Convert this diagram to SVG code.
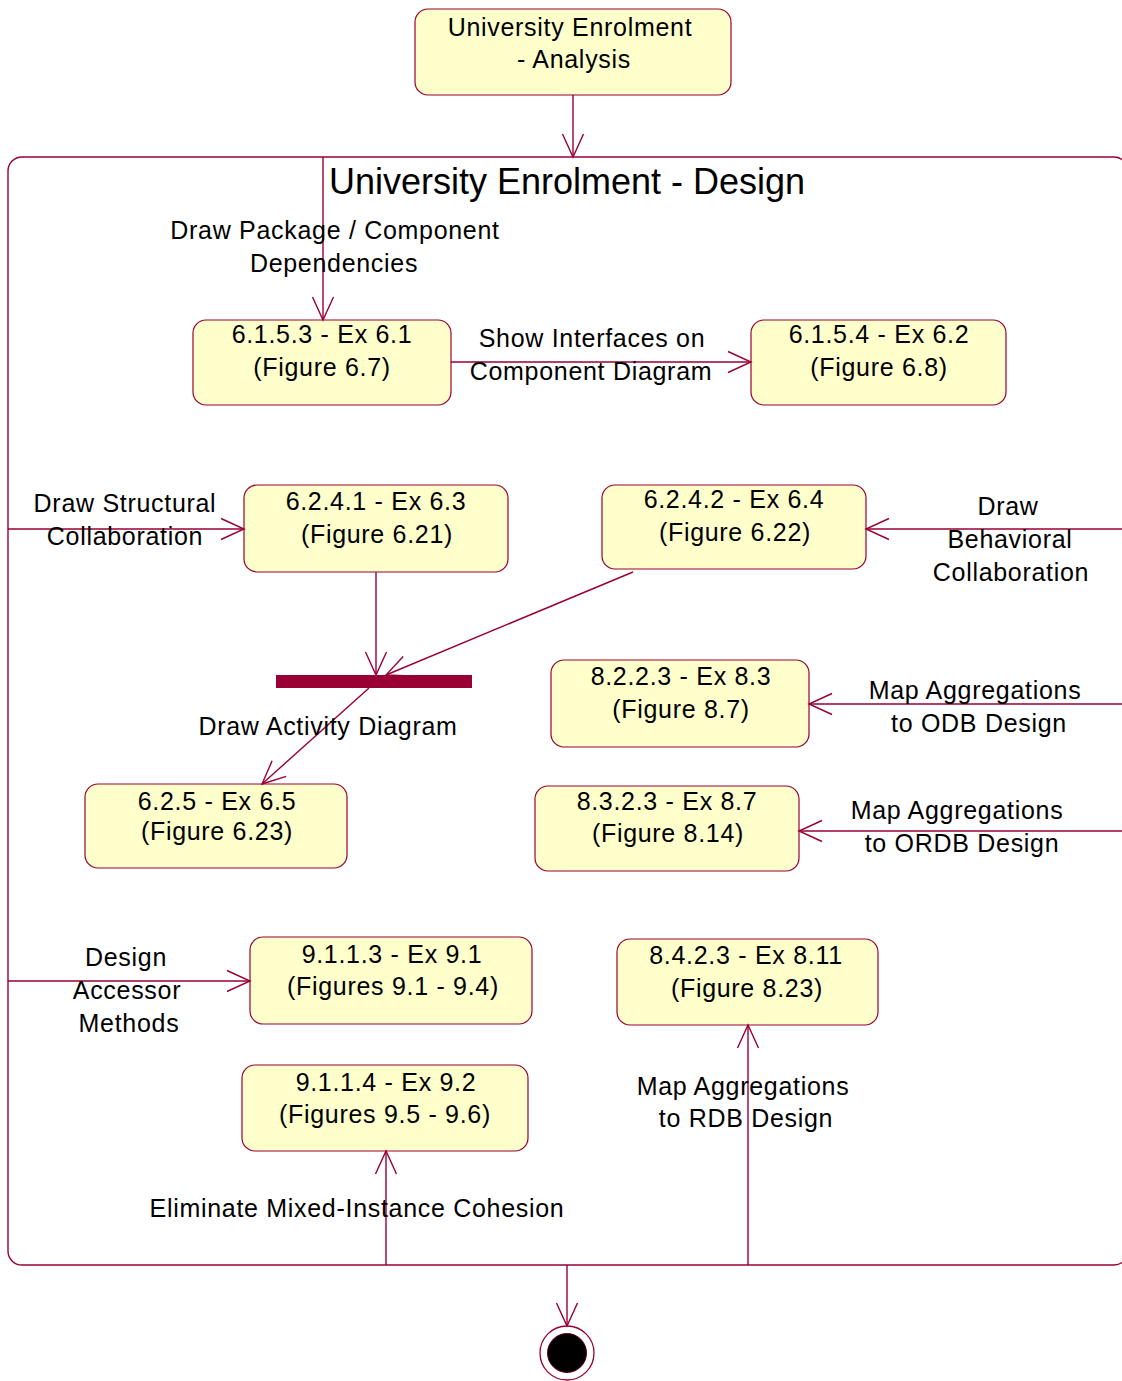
<svg xmlns="http://www.w3.org/2000/svg" width="1122" height="1381" viewBox="0 0 1122 1381">
  <style>
    .node { fill: #FFFFCC; stroke: #990033; stroke-width: 1.2; }
    .edge { fill: none; stroke: #990033; stroke-width: 1.4; }
    .t { font-family: "Liberation Sans", Arial, sans-serif; font-size: 25px; letter-spacing: 0.7px; fill: #000; text-anchor: middle; }
    .title { font-family: "Liberation Sans", Arial, sans-serif; font-size: 36px; fill: #000; text-anchor: middle; }
  </style>
  <defs>
    <marker id="open" viewBox="-25 -12 27 24" refX="0" refY="0" markerWidth="27" markerHeight="24" orient="auto" markerUnits="userSpaceOnUse">
      <path d="M-23,-10.5 L0,0 L-23,10.5" fill="none" stroke="#990033" stroke-width="1.4"/>
    </marker>
  </defs>

  <rect width="1122" height="1381" fill="#fff"/>

  <!-- composite state: design -->
  <g id="design">
    <rect x="8" y="157" width="1120" height="1108" rx="14" ry="14" fill="none" stroke="#990033" stroke-width="1.4"/>
    <text class="title" x="567" y="194">University Enrolment - Design</text>
  </g>

  <g id="analysis">
    <rect class="node" x="415" y="9" width="316" height="86" rx="13"/>
    <text class="t" x="570" y="36">University Enrolment</text>
    <text class="t" x="574" y="68">- Analysis</text>
  </g>

  <g id="n613">
    <rect class="node" x="193" y="320" width="258" height="85" rx="13"/>
    <text class="t" x="322" y="343">6.1.5.3 - Ex 6.1</text>
    <text class="t" x="322" y="376">(Figure 6.7)</text>
  </g>

  <g id="n614">
    <rect class="node" x="751" y="320" width="255" height="85" rx="13"/>
    <text class="t" x="879" y="343">6.1.5.4 - Ex 6.2</text>
    <text class="t" x="879" y="376">(Figure 6.8)</text>
  </g>

  <g id="n6241">
    <rect class="node" x="244" y="485" width="264" height="87" rx="13"/>
    <text class="t" x="376" y="510">6.2.4.1 - Ex 6.3</text>
    <text class="t" x="377" y="543">(Figure 6.21)</text>
  </g>

  <g id="n6242">
    <rect class="node" x="602" y="485" width="264" height="84" rx="13"/>
    <text class="t" x="734" y="508">6.2.4.2 - Ex 6.4</text>
    <text class="t" x="735" y="541">(Figure 6.22)</text>
  </g>

  <g id="sync">
    <rect x="276" y="675" width="196" height="13" fill="#990033"/>
  </g>

  <g id="n8223">
    <rect class="node" x="551" y="660" width="258" height="87" rx="13"/>
    <text class="t" x="681" y="685">8.2.2.3 - Ex 8.3</text>
    <text class="t" x="681" y="718">(Figure 8.7)</text>
  </g>

  <g id="n625">
    <rect class="node" x="85" y="784" width="262" height="84" rx="13"/>
    <text class="t" x="217" y="810">6.2.5 - Ex 6.5</text>
    <text class="t" x="217" y="840">(Figure 6.23)</text>
  </g>

  <g id="n8323">
    <rect class="node" x="535" y="786" width="264" height="85" rx="13"/>
    <text class="t" x="667" y="810">8.3.2.3 - Ex 8.7</text>
    <text class="t" x="668" y="842">(Figure 8.14)</text>
  </g>

  <g id="n9113">
    <rect class="node" x="250" y="937" width="282" height="87" rx="13"/>
    <text class="t" x="392" y="963">9.1.1.3 - Ex 9.1</text>
    <text class="t" x="393" y="995">(Figures 9.1 - 9.4)</text>
  </g>

  <g id="n8423">
    <rect class="node" x="617" y="939" width="261" height="86" rx="13"/>
    <text class="t" x="746" y="964">8.4.2.3 - Ex 8.11</text>
    <text class="t" x="747" y="997">(Figure 8.23)</text>
  </g>

  <g id="n9114">
    <rect class="node" x="242" y="1065" width="286" height="86" rx="13"/>
    <text class="t" x="386" y="1091">9.1.1.4 - Ex 9.2</text>
    <text class="t" x="385" y="1123">(Figures 9.5 - 9.6)</text>
  </g>

  <g id="final">
    <circle cx="567" cy="1353" r="27" fill="#fff" stroke="#990033" stroke-width="1.3"/>
    <circle cx="567" cy="1353" r="19.5" fill="#000" stroke="#660022" stroke-width="1"/>
  </g>

  <!-- transitions -->
  <g id="connectors">
    <line class="edge" x1="573" y1="95" x2="573" y2="157" marker-end="url(#open)"/>

    <line class="edge" x1="323" y1="157" x2="323" y2="320" marker-end="url(#open)"/>
    <text class="t" x="335" y="239">Draw Package / Component</text>
    <text class="t" x="334" y="272">Dependencies</text>

    <line class="edge" x1="451" y1="362" x2="751" y2="362" marker-end="url(#open)"/>
    <text class="t" x="592" y="347">Show Interfaces on</text>
    <text class="t" x="591" y="380">Component Diagram</text>

    <line class="edge" x1="8" y1="529" x2="244" y2="529" marker-end="url(#open)"/>
    <text class="t" x="125" y="512">Draw Structural</text>
    <text class="t" x="125" y="545">Collaboration</text>

    <line class="edge" x1="1122" y1="529" x2="866" y2="529" marker-end="url(#open)"/>
    <text class="t" x="1008" y="515">Draw</text>
    <text class="t" x="1010" y="548">Behavioral</text>
    <text class="t" x="1011" y="581">Collaboration</text>

    <line class="edge" x1="376" y1="572" x2="376" y2="675" marker-end="url(#open)"/>
    <line class="edge" x1="633" y1="572" x2="386" y2="675" marker-end="url(#open)"/>

    <line class="edge" x1="369" y1="688" x2="262" y2="784" marker-end="url(#open)"/>
    <text class="t" x="328" y="735">Draw Activity Diagram</text>

    <line class="edge" x1="1122" y1="704" x2="809" y2="704" marker-end="url(#open)"/>
    <text class="t" x="975" y="699">Map Aggregations</text>
    <text class="t" x="979" y="732">to ODB Design</text>

    <line class="edge" x1="1122" y1="831" x2="799" y2="831" marker-end="url(#open)"/>
    <text class="t" x="957" y="819">Map Aggregations</text>
    <text class="t" x="962" y="852">to ORDB Design</text>

    <line class="edge" x1="8" y1="981" x2="250" y2="981" marker-end="url(#open)"/>
    <text class="t" x="126" y="966">Design</text>
    <text class="t" x="127" y="999">Accessor</text>
    <text class="t" x="129" y="1032">Methods</text>

    <line class="edge" x1="748" y1="1265" x2="748" y2="1025" marker-end="url(#open)"/>
    <text class="t" x="743" y="1095">Map Aggregations</text>
    <text class="t" x="746" y="1127">to RDB Design</text>

    <line class="edge" x1="386" y1="1265" x2="386" y2="1151" marker-end="url(#open)"/>
    <text class="t" x="357" y="1217">Eliminate Mixed-Instance Cohesion</text>

    <line class="edge" x1="567" y1="1265" x2="567" y2="1326" marker-end="url(#open)"/>
  </g>
</svg>
